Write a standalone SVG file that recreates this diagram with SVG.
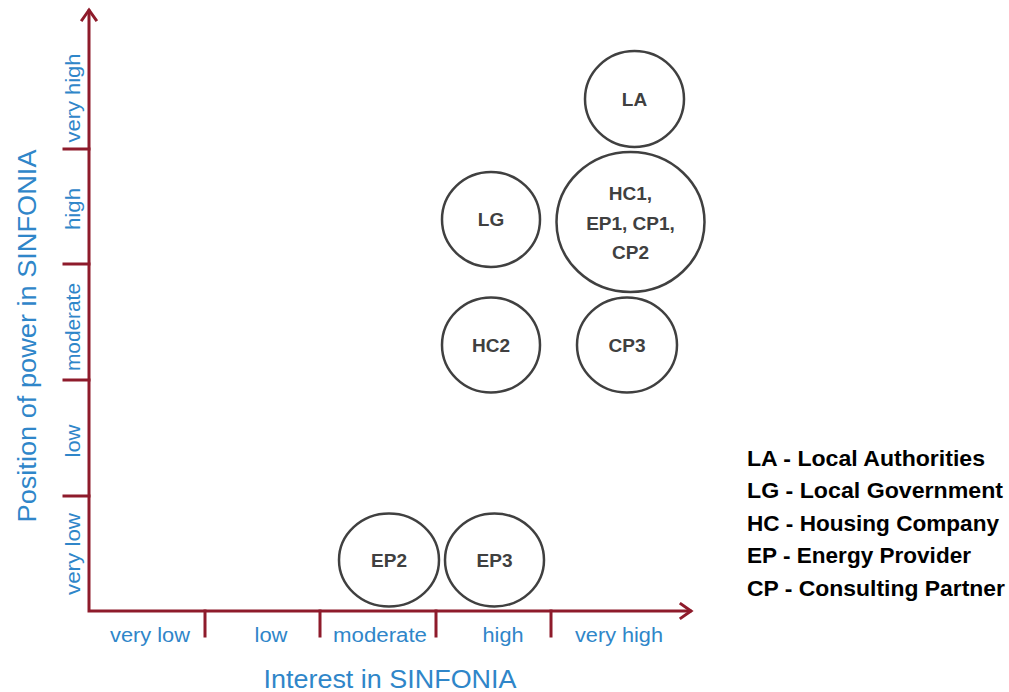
<svg xmlns="http://www.w3.org/2000/svg" width="1009" height="692" viewBox="0 0 1009 692">
<style>
.ax{stroke:#8e1b2b;stroke-width:3;fill:none;stroke-linecap:square}
.nd{fill:none;stroke:#404040;stroke-width:2.5}
.nt{font-family:"Liberation Sans",Arial,sans-serif;font-weight:bold;font-size:19px;fill:#404040;text-anchor:middle}
.lb{font-family:"Liberation Sans",Arial,sans-serif;font-size:20px;fill:#2f86c9;text-anchor:middle}
.tt{font-family:"Liberation Sans",Arial,sans-serif;font-size:25px;fill:#2f86c9;text-anchor:middle}
.lg{font-family:"Liberation Sans",Arial,sans-serif;font-weight:bold;font-size:21.5px;fill:#000}
</style>
<rect width="1009" height="692" fill="#fff"/>
<g id="connectors">
<path class="ax" d="M89,11 V611 H690"/>
<path class="ax" d="M82,20 L89,10 L96,20" stroke-linejoin="miter"/>
<path class="ax" d="M681,604 L691,611 L681,618"/>
<path class="ax" d="M64,149 H89 M64,264 H89 M64,380 H89 M64,496 H89"/>
<path class="ax" d="M205,611 V636 M320,611 V636 M436,611 V636 M551,611 V636"/>
</g>
<g id="axis-labels">
<text class="lb" transform="translate(80,98) rotate(-90)" textLength="89" lengthAdjust="spacingAndGlyphs">very high</text>
<text class="lb" transform="translate(80,209) rotate(-90)" textLength="42" lengthAdjust="spacingAndGlyphs">high</text>
<text class="lb" transform="translate(80,327) rotate(-90)" textLength="88" lengthAdjust="spacingAndGlyphs">moderate</text>
<text class="lb" transform="translate(80,441) rotate(-90)" textLength="33" lengthAdjust="spacingAndGlyphs">low</text>
<text class="lb" transform="translate(80,554) rotate(-90)" textLength="82" lengthAdjust="spacingAndGlyphs">very low</text>
<text class="lb" x="150" y="642" textLength="80" lengthAdjust="spacingAndGlyphs">very low</text>
<text class="lb" x="271" y="642" textLength="33" lengthAdjust="spacingAndGlyphs">low</text>
<text class="lb" x="380" y="642" textLength="94" lengthAdjust="spacingAndGlyphs">moderate</text>
<text class="lb" x="503" y="642" textLength="41" lengthAdjust="spacingAndGlyphs">high</text>
<text class="lb" x="619" y="642" textLength="88" lengthAdjust="spacingAndGlyphs">very high</text>
<text class="tt" x="390" y="688" textLength="253" lengthAdjust="spacingAndGlyphs">Interest in SINFONIA</text>
<text class="tt" transform="translate(36,336) rotate(-90)" textLength="373" lengthAdjust="spacingAndGlyphs">Position of power in SINFONIA</text>
</g>
<g id="LA"><ellipse class="nd" cx="634.5" cy="99" rx="49.5" ry="48"/><text class="nt" x="634.5" y="106">LA</text></g>
<g id="HC1-EP1-CP1-CP2"><ellipse class="nd" cx="630.5" cy="222" rx="74" ry="70"/>
<text class="nt" x="630.5" y="200">HC1,</text>
<text class="nt" x="630.5" y="230">EP1, CP1,</text>
<text class="nt" x="630.5" y="259">CP2</text></g>
<g id="LG"><ellipse class="nd" cx="491" cy="219.5" rx="49" ry="47.5"/><text class="nt" x="491" y="226">LG</text></g>
<g id="HC2"><ellipse class="nd" cx="491" cy="345" rx="49" ry="47.5"/><text class="nt" x="491" y="352">HC2</text></g>
<g id="CP3"><ellipse class="nd" cx="627" cy="345" rx="50" ry="47.5"/><text class="nt" x="627" y="352">CP3</text></g>
<g id="EP2"><ellipse class="nd" cx="389" cy="560" rx="50" ry="46.5"/><text class="nt" x="389" y="567">EP2</text></g>
<g id="EP3"><ellipse class="nd" cx="494.5" cy="560" rx="49.5" ry="46.5"/><text class="nt" x="494.5" y="567">EP3</text></g>
<g id="legend">
<text class="lg" x="747" y="466" textLength="238" lengthAdjust="spacingAndGlyphs">LA - Local Authorities</text>
<text class="lg" x="747" y="498" textLength="256" lengthAdjust="spacingAndGlyphs">LG - Local Government</text>
<text class="lg" x="747" y="531" textLength="252" lengthAdjust="spacingAndGlyphs">HC - Housing Company</text>
<text class="lg" x="747" y="563" textLength="224" lengthAdjust="spacingAndGlyphs">EP - Energy Provider</text>
<text class="lg" x="747" y="596" textLength="258" lengthAdjust="spacingAndGlyphs">CP - Consulting Partner</text>
</g>
</svg>
